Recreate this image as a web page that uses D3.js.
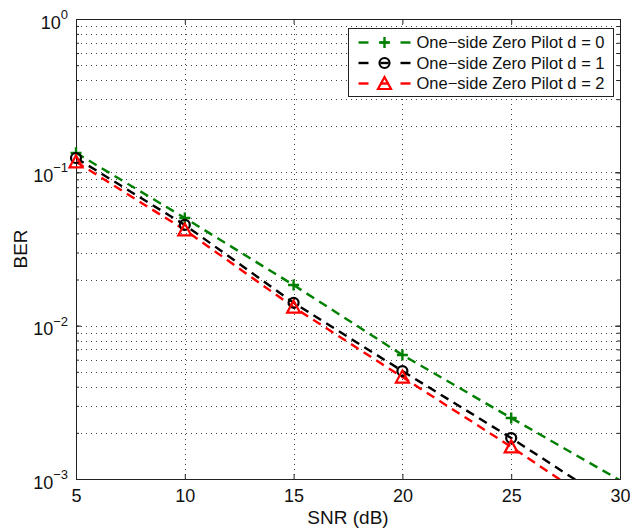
<!DOCTYPE html>
<html lang="en">
<head>
<meta charset="UTF-8">
<title>BER vs SNR</title>
<script src="https://cdnjs.cloudflare.com/ajax/libs/d3/7.8.5/d3.min.js"></script>
<style>
  body { margin: 0; background: #fff; }
  text { font-family: "Liberation Sans", Arial, sans-serif; }
</style>
</head>
<body>
<div id="chart"></div>
<script>
// data
var snr = [5, 10, 15, 20, 25, 30];
var berD0 = [0.134, 0.0504, 0.0184, 0.00644, 0.0025, 0.00098];
var berD1 = [0.124, 0.0454, 0.0141, 0.00506, 0.00185, 0.00064];
var berD2 = [0.117, 0.0421, 0.0132, 0.00462, 0.00162, 0.00054];
var seriesNames = ["One\u2212side Zero Pilot d = 0", "One\u2212side Zero Pilot d = 1", "One\u2212side Zero Pilot d = 2"];
var xTicks = [5, 10, 15, 20, 25, 30];
var yTicks = [1e-3, 1e-2, 1e-1, 1];
var yExp = ["\u22123", "\u22122", "\u22121", "0"];

var W = 630, H = 530;
var margin = { top: 19, right: 10, bottom: 51, left: 76 };
var w = W - margin.left - margin.right;
var h = H - margin.top - margin.bottom;

var svg = d3.select("#chart").append("svg")
    .attr("width", W)
    .attr("height", H);

var g = svg.append("g").attr("transform", "translate(" + margin.left + "," + margin.top + ")");

var x = d3.scaleLinear().domain([5, 30]).range([0, w]);
var y = d3.scaleLog().domain([1e-3, 1]).range([h, 0]);

g.append("rect").attr("width", w).attr("height", h).attr("fill", "#fff");

// dotted grid
var grid = g.append("g").attr("stroke", "#444").attr("stroke-width", 1).attr("stroke-dasharray", "1,4");
grid.selectAll(".gx").data(xTicks.slice(1, -1)).enter().append("line")
    .attr("x1", function(d) { return Math.round(x(d)) + 0.5; })
    .attr("x2", function(d) { return Math.round(x(d)) + 0.5; })
    .attr("y1", 0).attr("y2", h);
var yMinor = y.ticks().filter(function(d) { return d > 1e-3 && d < 1; });
grid.selectAll(".gy").data(yMinor).enter().append("line")
    .attr("x1", 0).attr("x2", w)
    .attr("y1", function(d) { return Math.round(y(d)) + 0.5; })
    .attr("y2", function(d) { return Math.round(y(d)) + 0.5; });

// axes with inward ticks
var xb = g.append("g").attr("transform", "translate(0," + h + ")")
    .call(d3.axisBottom(x).tickValues(xTicks).tickSize(-5).tickPadding(10).tickFormat(d3.format("d")));
var xt = g.append("g").call(d3.axisTop(x).tickValues(xTicks).tickSize(-5).tickFormat(""));
var yl = g.append("g").call(d3.axisLeft(y).tickValues(yTicks).tickSize(-5).tickFormat(""));
var yr = g.append("g").attr("transform", "translate(" + w + ",0)")
    .call(d3.axisRight(y).tickValues(yTicks).tickSize(-5).tickFormat(""));
g.append("g").call(d3.axisLeft(y).tickValues(yMinor).tickSize(-3).tickFormat(""));
g.append("g").attr("transform", "translate(" + w + ",0)")
    .call(d3.axisRight(y).tickValues(yMinor).tickSize(-3).tickFormat(""));

g.selectAll(".domain").attr("stroke", "#222");
g.selectAll(".tick line").attr("stroke", "#222");
xb.selectAll("text").attr("font-size", "18px").attr("fill", "#111")
    .attr("font-family", "'Liberation Sans', Arial, sans-serif");

// y labels as 10 with superscript
yl.selectAll(".tick").each(function(d) {
    var t = d3.select(this).append("text")
        .attr("x", -8).attr("y", 3).attr("dy", "0.35em")
        .attr("text-anchor", "end").attr("fill", "#111")
        .attr("font-size", "18px");
    t.append("tspan").text("10");
    t.append("tspan").attr("dy", "-0.75em").attr("font-size", "13px").text(yExp[yTicks.indexOf(d)]);
});

// clip for lines
svg.append("clipPath").attr("id", "clip").append("rect").attr("width", w).attr("height", h);

var series = [
    { values: berD0, color: "#008000", marker: "plus" },
    { values: berD1, color: "#000000", marker: "circle" },
    { values: berD2, color: "#ff0000", marker: "triangle" }
];

var line = d3.line()
    .x(function(d) { return x(d[0]); })
    .y(function(d) { return y(d[1]); });

function drawMarker(sel, type, color) {
    if (type === "plus") {
        sel.append("path").attr("d", "M-5.5,0H5.5M0,-5.5V5.5")
            .attr("stroke", color).attr("stroke-width", 2.4).attr("fill", "none");
    } else if (type === "circle") {
        sel.append("circle").attr("r", 5)
            .attr("stroke", color).attr("stroke-width", 2.2).attr("fill", "none");
    } else {
        sel.append("path").attr("d", "M0,-6.5L6.5,5.5H-6.5Z")
            .attr("stroke", color).attr("stroke-width", 2.2).attr("fill", "none");
    }
}

var plot = g.append("g").attr("clip-path", "url(#clip)");
series.forEach(function(s) {
    var pts = snr.map(function(v, i) { return [v, s.values[i]]; });
    plot.append("path").datum(pts)
        .attr("d", line)
        .attr("fill", "none")
        .attr("stroke", s.color)
        .attr("stroke-width", 2.4)
        .attr("stroke-dasharray", "9,6");
});
series.forEach(function(s) {
    snr.forEach(function(v, i) {
        if (s.values[i] < 1e-3) return;
        var m = g.append("g").attr("transform", "translate(" + x(v) + "," + y(s.values[i]) + ")");
        drawMarker(m, s.marker, s.color);
    });
});

// legend
var lg = svg.append("g").attr("transform", "translate(348.5,28.5)");
lg.append("rect").attr("width", 265).attr("height", 68)
    .attr("fill", "#fff").attr("stroke", "#222").attr("stroke-width", 1);
series.forEach(function(s, i) {
    var row = lg.append("g").attr("transform", "translate(0," + (14 + i * 20.5) + ")");
    [[10, 20], [32, 40], [52, 62]].forEach(function(seg) {
        row.append("line").attr("x1", seg[0]).attr("x2", seg[1]).attr("y1", 0).attr("y2", 0)
            .attr("stroke", s.color).attr("stroke-width", 2.4);
    });
    var m = row.append("g").attr("transform", "translate(36,0)");
    drawMarker(m, s.marker, s.color);
    row.append("text").attr("x", 68).attr("y", 0).attr("dy", "0.35em")
        .attr("font-size", "16.5px").attr("fill", "#111").text(seriesNames[i]);
});

// axis titles
svg.append("text").attr("x", margin.left + w / 2).attr("y", 524)
    .attr("text-anchor", "middle").attr("font-size", "19px").attr("fill", "#111").text("SNR (dB)");
svg.append("text").attr("transform", "translate(27," + (margin.top + h / 2) + ") rotate(-90)")
    .attr("text-anchor", "middle").attr("font-size", "19px").attr("fill", "#111").text("BER");
</script>
</body>
</html>
